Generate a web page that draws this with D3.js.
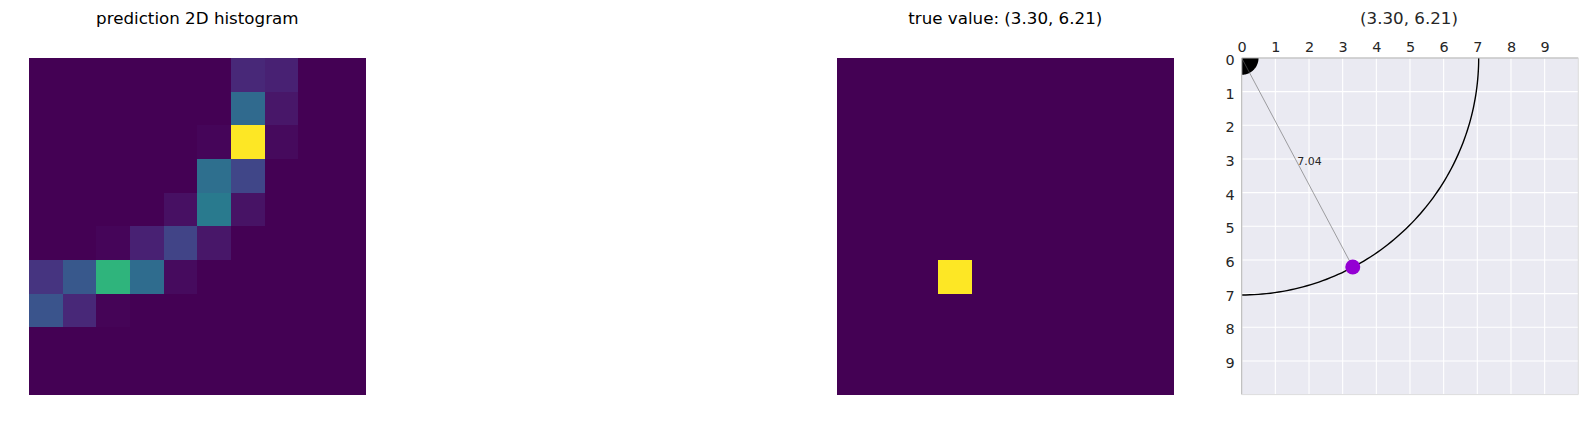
<!DOCTYPE html>
<html>
<head>
<meta charset="utf-8">
<script src="https://cdn.jsdelivr.net/npm/d3@7"></script>
<style>
  html, body { margin: 0; padding: 0; background: #fff; }
  svg { display: block; }
  text { font-family: "DejaVu Sans", sans-serif; }
</style>
</head>
<body>
<div id="chart"></div>
<script>
// histogram of predictions, one row per line, colour value 0..1
const predictionRows = [
  [0, 0, 0, 0, 0, 0, 0.11, 0.09, 0, 0],
  [0, 0, 0, 0, 0, 0, 0.34, 0.06, 0, 0],
  [0, 0, 0, 0, 0, 0.015, 1, 0.025, 0, 0],
  [0, 0, 0, 0, 0, 0.36, 0.21, 0, 0, 0],
  [0, 0, 0, 0, 0.04, 0.41, 0.05, 0, 0, 0],
  [0, 0, 0.015, 0.09, 0.20, 0.06, 0, 0, 0, 0],
  [0.15, 0.27, 0.65, 0.35, 0.03, 0, 0, 0, 0, 0],
  [0.26, 0.11, 0.01, 0, 0, 0, 0, 0, 0, 0],
  [0, 0, 0, 0, 0, 0, 0, 0, 0, 0],
  [0, 0, 0, 0, 0, 0, 0, 0, 0, 0]
];
const trueRows = [
  [0, 0, 0, 0, 0, 0, 0, 0, 0, 0],
  [0, 0, 0, 0, 0, 0, 0, 0, 0, 0],
  [0, 0, 0, 0, 0, 0, 0, 0, 0, 0],
  [0, 0, 0, 0, 0, 0, 0, 0, 0, 0],
  [0, 0, 0, 0, 0, 0, 0, 0, 0, 0],
  [0, 0, 0, 0, 0, 0, 0, 0, 0, 0],
  [0, 0, 0, 1, 0, 0, 0, 0, 0, 0],
  [0, 0, 0, 0, 0, 0, 0, 0, 0, 0],
  [0, 0, 0, 0, 0, 0, 0, 0, 0, 0],
  [0, 0, 0, 0, 0, 0, 0, 0, 0, 0]
];
const gridTicks = [0, 1, 2, 3, 4, 5, 6, 7, 8, 9];
const trueX = 3.30;
const trueY = 6.21;
const trueDist = 7.04;
const originRadius = 0.5;

const width = 1588;
const height = 429;
const plotTop = 58;
const side = 336.6;

const svg = d3.select('#chart').append('svg')
  .attr('width', width)
  .attr('height', height);

function heatmap(left, rows, title) {
  const x = d3.scaleBand().domain(d3.range(10)).range([left, left + side]);
  const y = d3.scaleBand().domain(d3.range(10)).range([plotTop, plotTop + side]);
  const g = svg.append('g').attr('shape-rendering', 'crispEdges');

  rows.forEach((row, r) => {
    g.selectAll(null)
      .data(row)
      .join('rect')
      .attr('x', (d, c) => x(c))
      .attr('y', y(r))
      .attr('width', x.bandwidth() + 0.5)
      .attr('height', y.bandwidth() + 0.5)
      .attr('fill', d => d3.interpolateViridis(d));
  });

  svg.append('text')
    .attr('x', left + side / 2)
    .attr('y', 24)
    .attr('text-anchor', 'middle')
    .style('font-size', '16.7px')
    .text(title);
}

heatmap(29, predictionRows, 'prediction 2D histogram');
heatmap(837, trueRows, 'true value: (3.30, 6.21)');

// right panel
const left3 = 1241.7;
const x = d3.scaleLinear().domain([0, 10]).range([left3, left3 + side]);
const y = d3.scaleLinear().domain([0, 10]).range([plotTop, plotTop + side]);

const defs = svg.append('defs');
defs.append('clipPath').attr('id', 'panel')
  .append('rect')
  .attr('x', x(0)).attr('y', y(0))
  .attr('width', side).attr('height', side);

svg.append('rect')
  .attr('x', x(0)).attr('y', y(0))
  .attr('width', side).attr('height', side)
  .attr('fill', '#eaeaf2');

svg.append('g').selectAll('line')
  .data(gridTicks)
  .join('line')
  .attr('x1', d => x(d)).attr('x2', d => x(d))
  .attr('y1', y(0)).attr('y2', y(10))
  .attr('stroke', '#fff').attr('stroke-width', 1.1);

svg.append('g').selectAll('line')
  .data(gridTicks)
  .join('line')
  .attr('x1', x(0)).attr('x2', x(10))
  .attr('y1', d => y(d)).attr('y2', d => y(d))
  .attr('stroke', '#fff').attr('stroke-width', 1.1);

const marks = svg.append('g').attr('clip-path', 'url(#panel)');

// quarter circle at the origin and the distance arc
const arcPath = r => {
  const pts = d3.range(0, 91).map(a => {
    const t = a * Math.PI / 180;
    return [x(r * Math.cos(t)), y(r * Math.sin(t))];
  });
  return d3.line()(pts);
};

marks.append('path')
  .attr('d', arcPath(originRadius) + `L${x(0)},${y(0)}Z`)
  .attr('fill', '#000');

marks.append('path')
  .attr('d', arcPath(trueDist))
  .attr('fill', 'none')
  .attr('stroke', '#000')
  .attr('stroke-width', 1.4);

marks.append('line')
  .attr('x1', x(0)).attr('y1', y(0))
  .attr('x2', x(trueX)).attr('y2', y(trueY))
  .attr('stroke', '#666')
  .attr('stroke-width', 0.6);

marks.append('circle')
  .attr('cx', x(trueX)).attr('cy', y(trueY))
  .attr('r', 7.5)
  .attr('fill', '#9400d3');

svg.append('text')
  .attr('x', x(trueX / 2))
  .attr('y', y(trueY / 2) + 2.5)
  .style('font-size', '11px')
  .attr('fill', '#262626')
  .text(trueDist.toFixed(2));

// spines
svg.append('line')
  .attr('x1', x(0)).attr('x2', x(10)).attr('y1', y(0)).attr('y2', y(0))
  .attr('stroke', '#aaa').attr('stroke-width', 1.2);
svg.append('line')
  .attr('x1', x(0)).attr('x2', x(0)).attr('y1', y(0)).attr('y2', y(10))
  .attr('stroke', '#bbb').attr('stroke-width', 1.2);
svg.append('line')
  .attr('x1', x(0)).attr('x2', x(10)).attr('y1', y(10)).attr('y2', y(10))
  .attr('stroke', '#ddd').attr('stroke-width', 1);
svg.append('line')
  .attr('x1', x(10)).attr('x2', x(10)).attr('y1', y(0)).attr('y2', y(10))
  .attr('stroke', '#ddd').attr('stroke-width', 1);

const xAxis = d3.axisTop(x).tickValues(gridTicks).tickFormat(d3.format('d')).tickSize(0).tickPadding(6);
const yAxis = d3.axisLeft(y).tickValues(gridTicks).tickFormat(d3.format('d')).tickSize(0).tickPadding(7);

svg.append('g').attr('transform', `translate(0,${y(0)})`).call(xAxis)
  .call(g => g.select('.domain').remove())
  .call(g => g.selectAll('text').attr('fill', '#262626').style('font-size', '14.4px').style('font-family', '"DejaVu Sans", sans-serif'));

svg.append('g').attr('transform', `translate(${x(0)},2)`).call(yAxis)
  .call(g => g.select('.domain').remove())
  .call(g => g.selectAll('text').attr('fill', '#262626').style('font-size', '14.4px').style('font-family', '"DejaVu Sans", sans-serif'));

svg.append('text')
  .attr('x', x(5) - 1)
  .attr('y', 24)
  .attr('text-anchor', 'middle')
  .attr('fill', '#262626')
  .style('font-size', '16.7px')
  .text('(3.30, 6.21)');
</script>
</body>
</html>
